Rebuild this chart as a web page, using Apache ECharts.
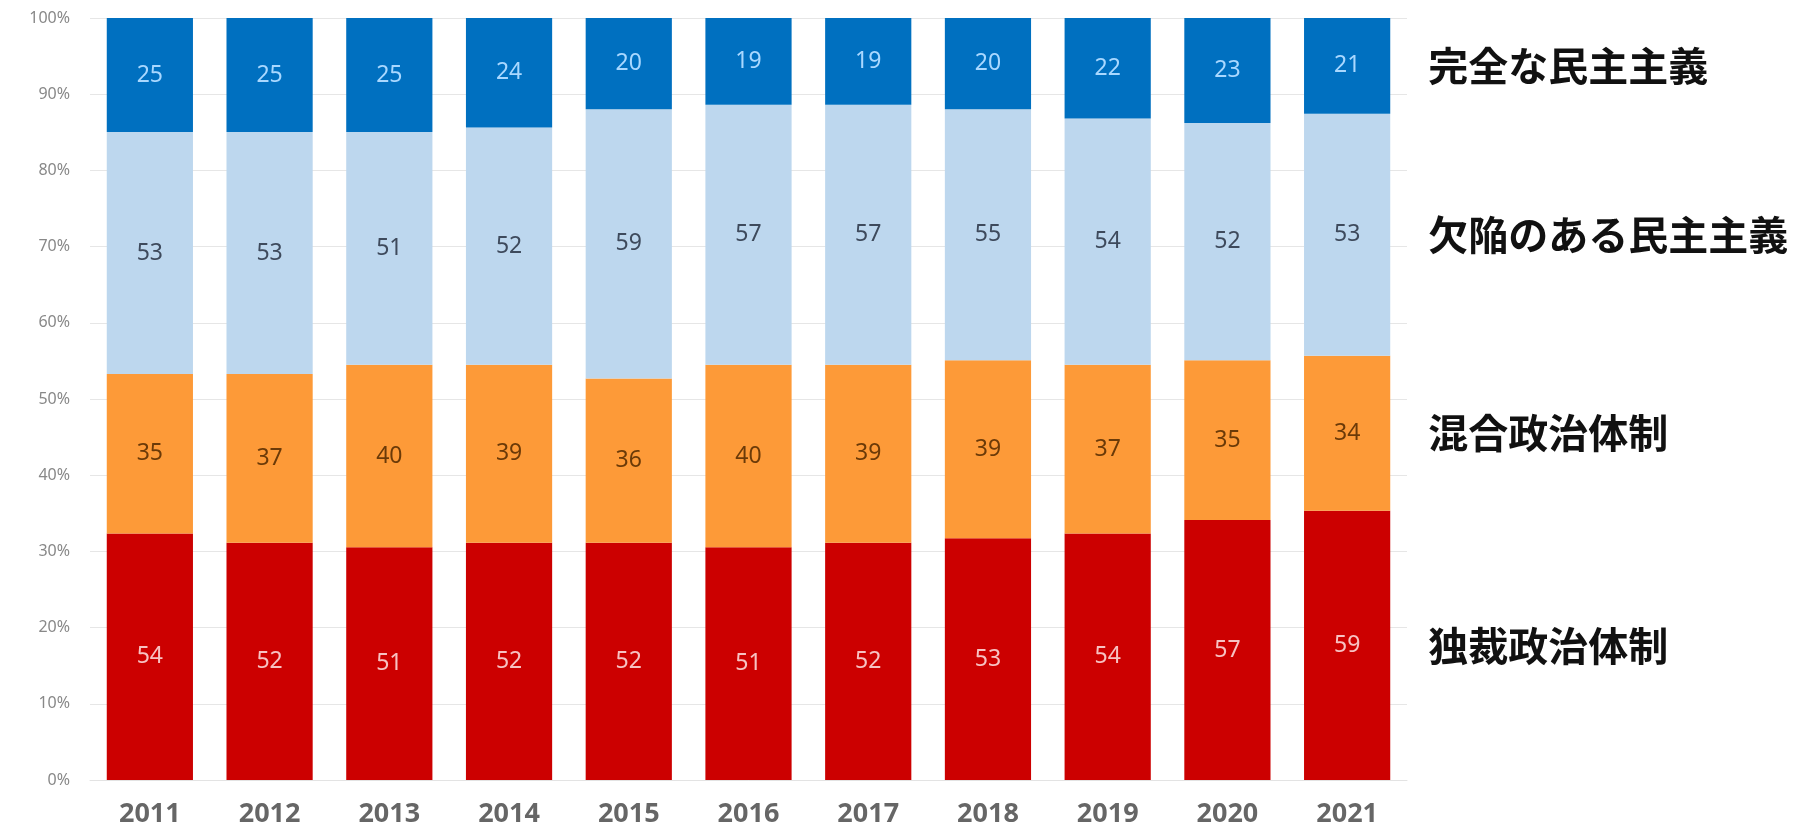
<!DOCTYPE html>
<html>
<head>
<meta charset="utf-8">
<script src="https://cdn.jsdelivr.net/npm/echarts@6/dist/echarts.min.js"></script>
<style>
html,body{margin:0;padding:0;background:#fff;}
#chart{width:1801px;height:831px;}
</style>
</head>
<body>
<div id="chart"></div>
<script>
const years = ['2011','2012','2013','2014','2015','2016','2017','2018','2019','2020','2021'];
const seriesNames = ['独裁政治体制','混合政治体制','欠陥のある民主主義','完全な民主主義'];
const authoritarian = [54,52,51,52,52,51,52,53,54,57,59];
const hybrid = [35,37,40,39,36,40,39,39,37,35,34];
const flawed = [53,53,51,52,59,57,57,55,54,52,53];
const full = [25,25,25,24,20,19,19,20,22,23,21];
const yTicks = [0,10,20,30,40,50,60,70,80,90,100];

const counts = [authoritarian, hybrid, flawed, full];
const colors = ['#cc0000','#fd9a38','#bdd7ee','#0070c0'];
const labelColors = ['#f7c2c2','#6b3a08','#3e4a5c','#a9d8ff'];

const totals = years.map((_, i) => counts.reduce((s, arr) => s + arr[i], 0));
const pcts = counts.map(arr => arr.map((v, i) => v / totals[i] * 100));

const last = years.length - 1;
const series = counts.map((arr, si) => {
  let below = 0;
  for (let k = 0; k < si; k++) below += pcts[k][last];
  const center = below + pcts[si][last] / 2;
  return {
    name: seriesNames[si],
    type: 'bar',
    stack: 'total',
    barWidth: '72%',
    itemStyle: { color: colors[si] },
    label: {
      show: true,
      position: 'inside',
      color: labelColors[si],
      fontSize: 23,
      fontFamily: 'Noto Sans',
      formatter: p => p.data.count
    },
    data: arr.map((v, i) => ({ value: pcts[si][i], count: v })),
    markPoint: {
      symbol: 'circle',
      symbolSize: 0,
      silent: true,
      label: {
        show: true,
        position: 'right',
        distance: 0,
        offset: [81, 0],
        formatter: seriesNames[si],
        color: '#111',
        fontSize: 40,
        fontWeight: 'bold',
        fontFamily: 'Noto Sans CJK JP'
      },
      data: [{ coord: [years[last], center] }]
    }
  };
});

const chart = echarts.init(document.getElementById('chart'));
chart.setOption({
  animation: false,
  backgroundColor: '#fff',
  grid: { left: 90, right: 394, top: 18, bottom: 51, containLabel: false },
  xAxis: {
    type: 'category',
    data: years,
    axisLine: { show: true, lineStyle: { color: '#e3e3e3' } },
    axisTick: { show: false },
    axisLabel: { color: '#666', fontSize: 27, fontWeight: 'bold', fontFamily: 'Noto Sans', margin: 21 }
  },
  yAxis: {
    type: 'value',
    min: 0,
    max: 100,
    interval: 10,
    axisLine: { show: false },
    axisTick: { show: false },
    splitLine: { lineStyle: { color: '#e6e6e6' } },
    axisLabel: {
      color: '#888',
      fontSize: 16,
      fontFamily: 'Noto Sans',
      margin: 20,
      formatter: v => yTicks.includes(v) ? v + '%' : ''
    }
  },
  series: series
});
</script>
</body>
</html>
